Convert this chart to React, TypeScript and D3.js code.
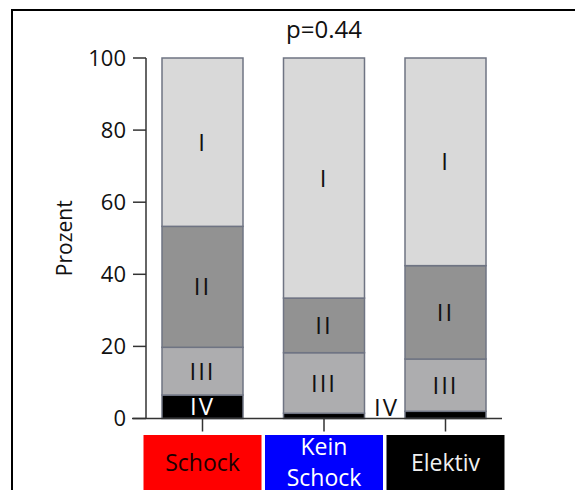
import React, { useRef, useEffect } from 'react';
import * as d3 from 'd3';

const groups = ['Schock', 'Kein Schock', 'Elektiv'];
const groupColors = ['#ff0000', '#0000ff', '#000000'];
const groupTextColors = ['#1a0000', '#ffffff', '#f0f0f0'];
const stages = ['IV', 'III', 'II', 'I'];
const stageColors = ['#000000', '#adadaf', '#929292', '#d9d9d9'];
// values per stage (IV, III, II, I) for each group, in percent
const schock = [6.5, 13.25, 33.55, 46.7];
const keinSchock = [1.45, 16.8, 15.15, 66.6];
const elektiv = [2.0, 14.5, 25.9, 57.6];
const yTicks = [0, 20, 40, 60, 80, 100];
const pLabel = 'p=0.44';

export default function App() {
  const svgRef = useRef<SVGSVGElement>(null);

  useEffect(() => {
    const svg = d3.select(svgRef.current);
    svg.selectAll('*').remove();
    const font = '"Open Sans", "DejaVu Sans", sans-serif';

    // frame
    svg.append('rect').attr('x', 12).attr('y', 10).attr('width', 600).attr('height', 600)
      .attr('fill', 'none').attr('stroke', '#000').attr('stroke-width', 2);

    const x = d3.scaleBand().domain(groups).range([162, 486]).paddingInner(1 / 3).paddingOuter(0);
    const y = d3.scaleLinear().domain([0, 100]).range([418.5, 58]);
    const data = [schock, keinSchock, elektiv];

    // bars
    data.forEach((vals, gi) => {
      const stacked = d3.cumsum(vals);
      const x0 = x(groups[gi])!;
      vals.forEach((v, si) => {
        const top = stacked[si];
        const bottom = top - v;
        svg.append('rect')
          .attr('x', x0).attr('width', x.bandwidth())
          .attr('y', y(top)).attr('height', y(bottom) - y(top))
          .attr('fill', stageColors[si])
          .attr('stroke', '#6f7483').attr('stroke-width', 1.5);
        const inside = y(bottom) - y(top) > 16;
        const cx = inside ? x0 + x.bandwidth() / 2 : x0 + x.bandwidth() + 22;
        const cy = inside ? (y(top) + y(bottom)) / 2 : y(0) - 11;
        if (inside || gi === 1) {
          svg.append('text').attr('x', cx).attr('y', cy).attr('dy', '0.36em')
            .attr('text-anchor', 'middle').attr('font-family', font).attr('font-size', 24)
            .attr('letter-spacing', 2)
            .attr('fill', si === 0 && inside ? '#fff' : '#111').text(stages[si]);
        }
      });
    });

    // y axis
    svg.append('line').attr('x1', 146).attr('x2', 146).attr('y1', y(100)).attr('y2', y(0))
      .attr('stroke', '#333').attr('stroke-width', 1.5);
    yTicks.forEach((t) => {
      svg.append('line').attr('x1', 133).attr('x2', 146).attr('y1', y(t)).attr('y2', y(t))
        .attr('stroke', '#333').attr('stroke-width', 1.5);
      svg.append('text').attr('x', 126).attr('y', y(t)).attr('dy', '0.36em')
        .attr('text-anchor', 'end').attr('font-family', font).attr('font-size', 22)
        .attr('fill', '#111').text(t);
    });
    svg.append('text').attr('transform', `translate(72,${y(50)}) rotate(-90)`)
      .attr('text-anchor', 'middle').attr('font-family', font).attr('font-size', 21)
      .attr('fill', '#111').text('Prozent');

    // x axis
    svg.append('line').attr('x1', 132).attr('x2', 502).attr('y1', y(0)).attr('y2', y(0))
      .attr('stroke', '#333').attr('stroke-width', 1.5);
    groups.forEach((g, gi) => {
      const cx = x(g)! + x.bandwidth() / 2;
      svg.append('line').attr('x1', cx).attr('x2', cx).attr('y1', y(0)).attr('y2', y(0) + 13)
        .attr('stroke', '#333').attr('stroke-width', 1.5);
      svg.append('rect').attr('x', cx - 59).attr('y', 435).attr('width', 118).attr('height', 70)
        .attr('fill', groupColors[gi]);
      const words = g.split(' ');
      words.forEach((w, wi) => {
        const cy = words.length === 1 ? 463 : 447 + wi * 31;
        svg.append('text').attr('x', cx).attr('y', cy).attr('dy', '0.36em')
          .attr('text-anchor', 'middle').attr('font-family', font).attr('font-size', 23)
          .attr('fill', groupTextColors[gi]).text(w);
      });
    });

    // p value
    svg.append('text').attr('x', x(groups[1])! + x.bandwidth() / 2).attr('y', 38)
      .attr('text-anchor', 'middle').attr('font-family', font).attr('font-size', 24)
      .attr('fill', '#111').text(pLabel);
  }, []);

  return (
    <div style={{ position: 'absolute', left: 0, top: 0, background: '#fff' }}>
      <svg ref={svgRef} width={575} height={490} style={{ display: 'block' }} />
    </div>
  );
}
